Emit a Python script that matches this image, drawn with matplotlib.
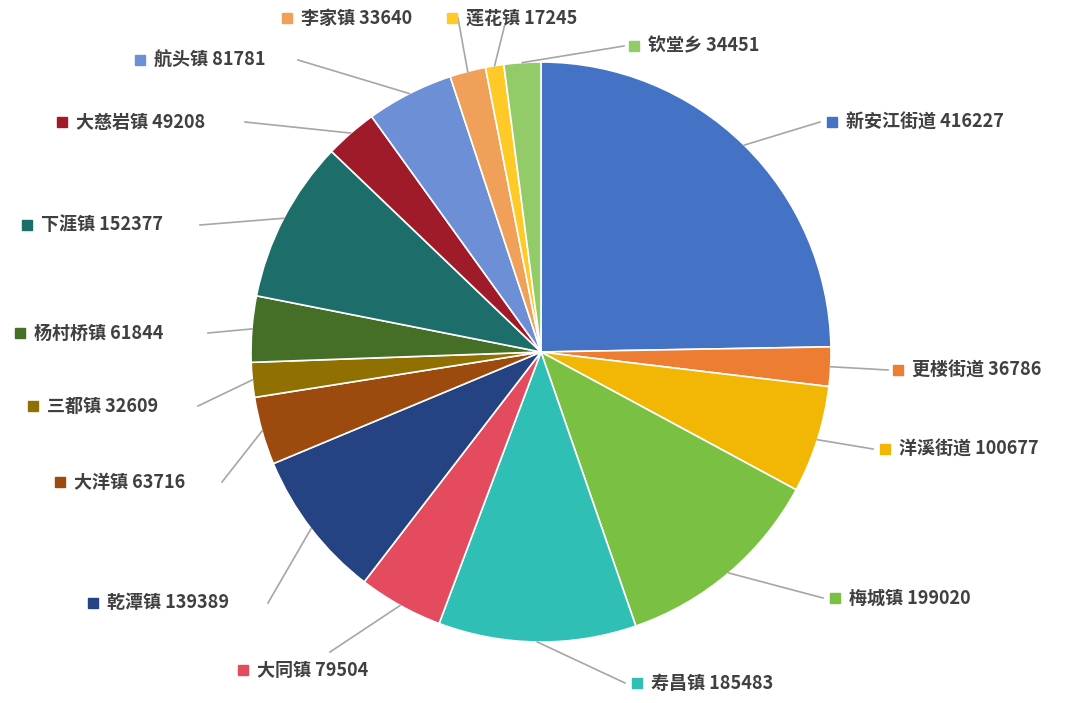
import matplotlib
matplotlib.use("Agg")
import matplotlib.pyplot as plt
import numpy as np

plt.rcParams['font.family'] = ['Noto Sans CJK SC', 'DejaVu Sans']

names = ["新安江街道", "更楼街道", "洋溪街道", "梅城镇", "寿昌镇", "大同镇", "乾潭镇", "大洋镇",
         "三都镇", "杨村桥镇", "下涯镇", "大慈岩镇", "航头镇", "李家镇", "莲花镇", "钦堂乡"]
values = [416227, 36786, 100677, 199020, 185483, 79504, 139389, 63716,
          32609, 61844, 152377, 49208, 81781, 33640, 17245, 34451]
colors = ["#4472C4", "#ED7D31", "#F2B705", "#7AC143", "#2FBFB4", "#E54B5F", "#254282", "#9C4A0E",
          "#8F7000", "#456F27", "#1D6E6A", "#A01B2A", "#6C8FD6", "#F1A05A", "#FFCA28", "#92CB68"]

# label layout in pixels: marker position, leader line end
marker_px = [(832, 122), (898, 370), (885, 449), (835, 598), (637, 683), (243, 670), (93, 603), (60, 482),
             (33, 406), (20, 333), (27, 225), (62, 122), (140, 60), (287, 18), (452, 18), (634, 46)]
line_end_px = [(820, 122), (888, 370), (873, 449), (823, 598), (625, 683), (330, 652), (268, 603), (222, 482),
               (198, 406), (208, 333), (200, 225), (245, 122), (298, 60), (458, 18), (505, 24), (624, 46)]

W, H = 1080, 703
CX, CY, R = 541, 352, 290

def to_data(px, py):
    return (px - CX) / R, (CY - py) / R

fig = plt.figure(figsize=(W / 100, H / 100), dpi=100)
ax = fig.add_axes([0, 0, 1, 1])
ax.set_xlim(-CX / R, (W - CX) / R)
ax.set_ylim(-(H - CY) / R, CY / R)
ax.axis("off")

wedges, _ = ax.pie(values, colors=colors, startangle=90, counterclock=False, radius=1,
                   wedgeprops=dict(edgecolor="white", linewidth=1.2))
ax.set_xlim(-CX / R, (W - CX) / R)
ax.set_ylim(-(H - CY) / R, CY / R)

for w, name, val, mp, lp in zip(wedges, names, values, marker_px, line_end_px):
    ang = np.deg2rad((w.theta1 + w.theta2) / 2)
    x0, y0 = np.cos(ang), np.sin(ang)
    x1, y1 = to_data(*lp)
    ax.plot([x0, x1], [y0, y1], color="#A6A6A6", lw=1.2)
    mx, my = to_data(*mp)
    ax.plot(mx, my, marker="s", color=w.get_facecolor(), ms=7, ls="none")
    ax.text(mx + 14 / R, my, f"{name} {val}", ha="left", va="center",
            fontsize=13, color="#404040", fontweight="bold")

fig.savefig("out.png", dpi=100)
